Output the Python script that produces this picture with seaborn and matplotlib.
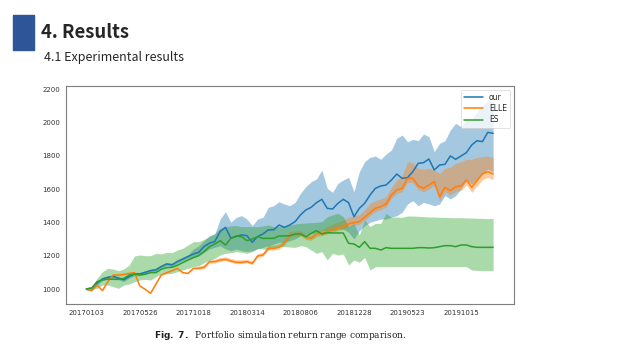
import numpy as np
import pandas as pd
import matplotlib
matplotlib.use("Agg")
import matplotlib.pyplot as plt
import seaborn as sns

# ── data ─────────────────────────────────────────────────────────────────────
tick_labels = ["20170103", "20170526", "20171018", "20180314",
               "20180806", "20181228", "20190523", "20191015"]

our = [1000, 1005, 1035, 1060, 1070, 1075, 1065, 1055, 1075, 1090, 1090, 1100, 1110,
       1115, 1135, 1150, 1145, 1165, 1180, 1195, 1210, 1220, 1255, 1275, 1285, 1345,
       1370, 1305, 1315, 1325, 1320, 1280, 1315, 1330, 1355, 1355, 1384, 1370, 1384,
       1404, 1444, 1474, 1490, 1518, 1538, 1484, 1480, 1514, 1538, 1518, 1434, 1484,
       1514, 1564, 1604, 1618, 1624, 1654, 1690, 1664, 1668, 1704, 1754, 1758, 1780,
       1714, 1744, 1748, 1798, 1778, 1798, 1818, 1864, 1890, 1884, 1940, 1934]
our_hi = [1010, 1015, 1045, 1070, 1080, 1085, 1075, 1065, 1085, 1100, 1100, 1110, 1120,
          1125, 1145, 1160, 1155, 1175, 1190, 1205, 1240, 1260, 1290, 1320, 1330, 1420,
          1464, 1400, 1430, 1440, 1420, 1380, 1420, 1430, 1490, 1500, 1524, 1510, 1500,
          1520, 1574, 1614, 1644, 1660, 1714, 1604, 1580, 1634, 1654, 1670, 1584, 1704,
          1764, 1790, 1798, 1778, 1810, 1834, 1904, 1924, 1884, 1898, 1890, 1930, 1914,
          1824, 1874, 1890, 1954, 1994, 1974, 2014, 2018, 2060, 2100, 2130, 2120]
our_lo = [990, 995, 1025, 1050, 1060, 1065, 1055, 1045, 1065, 1080, 1080, 1090, 1100,
          1105, 1125, 1140, 1135, 1155, 1170, 1185, 1190, 1200, 1220, 1240, 1250, 1260,
          1240, 1230, 1240, 1230, 1225, 1230, 1240, 1250, 1260, 1270, 1280, 1280, 1290,
          1300, 1320, 1330, 1330, 1340, 1350, 1350, 1350, 1360, 1360, 1340, 1300, 1350,
          1380, 1400, 1410, 1420, 1420, 1430, 1440, 1460, 1510, 1530, 1500, 1520, 1510,
          1500, 1510, 1560, 1540, 1560, 1600, 1650, 1630, 1660, 1690, 1720, 1700]

elle = [1000, 990, 1024, 990, 1044, 1084, 1084, 1088, 1094, 1098, 1018, 998, 974,
        1030, 1084, 1098, 1110, 1124, 1098, 1094, 1124, 1124, 1130, 1164, 1164, 1174,
        1178, 1168, 1160, 1160, 1164, 1154, 1198, 1204, 1244, 1244, 1250, 1274, 1324,
        1330, 1330, 1310, 1304, 1330, 1334, 1344, 1354, 1364, 1374, 1390, 1398, 1404,
        1430, 1458, 1484, 1494, 1510, 1564, 1594, 1604, 1664, 1664, 1618, 1604, 1624,
        1644, 1554, 1610, 1590, 1614, 1618, 1654, 1610, 1650, 1690, 1704, 1690]
elle_hi = [1002, 993, 1027, 993, 1047, 1087, 1087, 1091, 1097, 1101, 1021, 1001, 977,
           1033, 1087, 1101, 1113, 1127, 1101, 1097, 1127, 1139, 1145, 1179, 1179, 1189,
           1193, 1183, 1175, 1175, 1179, 1169, 1213, 1219, 1264, 1264, 1270, 1294, 1344,
           1350, 1350, 1330, 1324, 1350, 1356, 1374, 1390, 1400, 1414, 1430, 1440, 1446,
           1476, 1514, 1530, 1540, 1554, 1610, 1654, 1680, 1764, 1758, 1724, 1718, 1724,
           1714, 1694, 1724, 1730, 1754, 1764, 1778, 1778, 1790, 1794, 1798, 1790]
elle_lo = [998, 987, 1021, 987, 1041, 1081, 1081, 1085, 1091, 1095, 1015, 995, 971,
           1027, 1081, 1095, 1107, 1121, 1095, 1091, 1121, 1116, 1122, 1156, 1156, 1166,
           1170, 1160, 1152, 1152, 1156, 1146, 1190, 1196, 1234, 1234, 1240, 1262, 1312,
           1318, 1318, 1298, 1292, 1316, 1320, 1330, 1340, 1350, 1358, 1374, 1382, 1388,
           1412, 1440, 1466, 1476, 1492, 1544, 1574, 1584, 1640, 1640, 1596, 1582, 1600,
           1620, 1530, 1584, 1564, 1586, 1590, 1624, 1580, 1618, 1656, 1670, 1656]

es = [1000, 1005, 1044, 1054, 1060, 1058, 1058, 1064, 1084, 1090, 1084, 1088, 1098,
      1098, 1118, 1128, 1130, 1142, 1158, 1174, 1188, 1200, 1224, 1254, 1270, 1290,
      1264, 1304, 1318, 1314, 1290, 1300, 1314, 1304, 1304, 1304, 1318, 1318, 1320,
      1330, 1330, 1314, 1334, 1350, 1330, 1338, 1336, 1336, 1336, 1274, 1270, 1250,
      1284, 1244, 1244, 1234, 1248, 1244, 1244, 1244, 1244, 1244, 1248, 1248, 1246,
      1248, 1254, 1260, 1260, 1254, 1264, 1264, 1254, 1250, 1250, 1250, 1250]
es_hi = [1000, 1010, 1064, 1104, 1124, 1120, 1110, 1120, 1144, 1198, 1204, 1200, 1200,
         1214, 1210, 1220, 1218, 1234, 1244, 1264, 1284, 1284, 1298, 1314, 1334, 1364,
         1374, 1378, 1380, 1374, 1374, 1374, 1374, 1378, 1384, 1374, 1374, 1378, 1384,
         1390, 1394, 1396, 1398, 1400, 1404, 1434, 1444, 1454, 1434, 1374, 1390, 1324,
         1414, 1374, 1394, 1394, 1454, 1430, 1432, 1430, 1438, 1438, 1436, 1434, 1432,
         1432, 1430, 1430, 1428, 1428, 1428, 1426, 1426, 1424, 1424, 1422, 1424]
es_lo = [1000, 1000, 1004, 1024, 1024, 1014, 1004, 1024, 1030, 1044, 1054, 1058, 1054,
         1074, 1090, 1090, 1094, 1104, 1114, 1124, 1134, 1140, 1158, 1174, 1184, 1204,
         1214, 1218, 1224, 1220, 1214, 1224, 1244, 1240, 1236, 1250, 1254, 1254, 1252,
         1250, 1260, 1254, 1234, 1214, 1224, 1174, 1214, 1204, 1210, 1144, 1174, 1160,
         1190, 1114, 1134, 1134, 1134, 1134, 1134, 1134, 1134, 1134, 1134, 1134, 1134,
         1134, 1134, 1134, 1134, 1134, 1134, 1134, 1114, 1112, 1110, 1110, 1110]

steps = np.arange(len(our))
df = pd.DataFrame({
    "step": np.tile(steps, 3),
    "value": our + elle + es,
    "model": ["our"] * len(our) + ["ELLE"] * len(elle) + ["ES"] * len(es),
})
bands = {"our": (our_lo, our_hi), "ELLE": (elle_lo, elle_hi), "ES": (es_lo, es_hi)}
palette = {"our": "#1f77b4", "ELLE": "#ff7f0e", "ES": "#2ca02c"}

# ── figure: slide 640x360 ─────────────────────────────────────────────────────
sns.set_style("white")
plt.rcParams["font.family"] = ["DejaVu Sans"]
fig = plt.figure(figsize=(6.4, 3.6), dpi=100)
fig.patch.set_facecolor("white")

# slide header
fig.patches.append(matplotlib.patches.Rectangle(
    (13 / 640, 1 - 50 / 360), 21 / 640, 35 / 360,
    transform=fig.transFigure, color="#2E5597", zorder=1))
fig.text(41 / 640, 1 - 33 / 360, "4. Results", fontsize=13.3, fontweight="bold",
         family=["Noto Sans CJK KR", "DejaVu Sans"], va="center", ha="left")
fig.text(44 / 640, 1 - 57 / 360, "4.1 Experimental results", fontsize=9,
         fontweight="medium", family=["Noto Sans CJK KR", "DejaVu Sans"],
         va="center", ha="left")

# chart
ax = fig.add_axes([66 / 640, 1 - 304 / 360, 448 / 640, 218 / 360])
for name, (lo, hi) in bands.items():
    ax.fill_between(steps, lo, hi, color=palette[name], alpha=0.4, linewidth=0)
sns.lineplot(data=df, x="step", y="value", hue="model", palette=palette,
             ax=ax, linewidth=1.1)

ax.set_xlim(-3.8, 79.9)
ax.set_ylim(910, 2218)
ax.set_xticks(np.arange(0, 80, 10))
ax.set_xticklabels(tick_labels)
ax.set_yticks(np.arange(1000, 2201, 200))
ax.tick_params(axis="both", labelsize=5, length=2, width=0.5, colors="#333333", pad=2)
ax.set_xlabel("")
ax.set_ylabel("")
for sp in ax.spines.values():
    sp.set_color("#7f7f7f")
    sp.set_linewidth(0.8)

leg = ax.legend(loc="upper right", fontsize=5.5, frameon=True, handlelength=2.5,
                borderpad=0.4, labelspacing=0.3)
leg.get_frame().set_linewidth(0.5)

# caption
fig.text(280 / 640, 1 - 335 / 360,
         r"$\bf{Fig.\ 7.}$  Portfolio simulation return range comparison.",
         fontsize=6.5, family="DejaVu Serif", ha="center", va="center", color="#222222")

fig.savefig("out.png", dpi=100)
